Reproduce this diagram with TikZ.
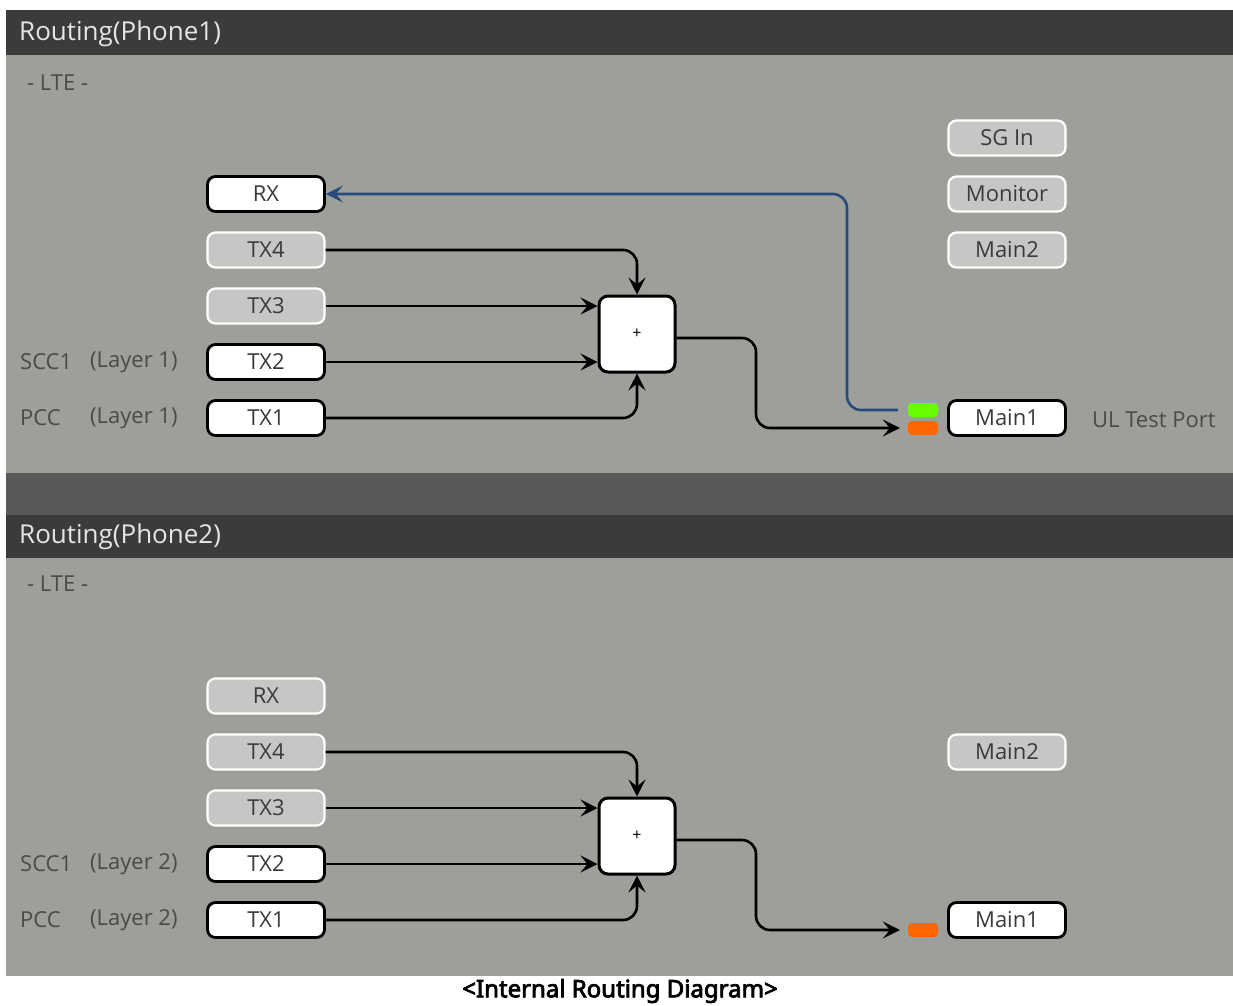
\documentclass[tikz,border=0pt]{standalone}
\usepackage{fontspec}
\setmainfont{Open Sans}
\newfontfamily\capfont{Noto Sans}[FakeBold=3.2]
\usetikzlibrary{arrows.meta}
\definecolor{panelbg}{HTML}{9D9F9B}
\definecolor{titlebg}{HTML}{3B3B3B}
\definecolor{stripbg}{HTML}{58595B}
\definecolor{offfill}{HTML}{C6C7C5}
\definecolor{nodetext}{HTML}{3A3A3A}
\definecolor{labeltext}{HTML}{4A4A4A}
\definecolor{rxblue}{HTML}{264A7A}
\definecolor{ledgreen}{HTML}{66FF00}
\definecolor{ledorange}{HTML}{FF6600}
\tikzset{
  port/.style={rounded corners=8pt, minimum width=117pt, minimum height=35pt,
    inner sep=0pt, font=\fontsize{22}{22}\selectfont, text=nodetext},
  porton/.style={port, fill=white, draw=black, line width=2.8pt},
  portoff/.style={port, fill=offfill, draw=white, line width=2.2pt},
  sumbox/.style={rounded corners=9pt, minimum width=76pt, minimum height=76pt,
    fill=white, draw=black, line width=3pt, inner sep=0pt},
  led/.style={rounded corners=4pt, minimum width=30pt, minimum height=14pt, inner sep=0pt},
  lbl/.style={font=\fontsize{22}{22}\selectfont, text=labeltext, anchor=west, inner sep=0pt},
  ttl/.style={font=\fontsize{26}{26}\selectfont, text=white!90!black, anchor=west, inner sep=0pt},
  link/.style={line width=2.6pt, rounded corners=14pt,
    -{Stealth[length=17pt,width=17pt,inset=7pt]}},
}
\begin{document}
\begin{tikzpicture}[x=1pt,y=-1pt]
\useasboundingbox (0,0) rectangle (1233,1005);
\fill[white] (0,0) rectangle (1233,1005);
% frames
\fill[titlebg] (6,10) rectangle (1233,55);
\fill[panelbg] (6,55) rectangle (1233,473);
\fill[stripbg] (6,473) rectangle (1233,515);
\fill[titlebg] (6,515) rectangle (1233,558);
\fill[panelbg] (6,558) rectangle (1233,976);

\node[ttl] (t1) at (19,34) {Routing(Phone1)};
\node[ttl] (t2) at (19,537) {Routing(Phone2)};
\node[lbl] (lte1) at (27,83) {- LTE -};
\node[lbl] (lte2) at (27,584) {- LTE -};

% ---- Phone 1 ----
\node[porton]  (rx1)  at (266,194) {RX};
\node[portoff] (tx41) at (266,250) {TX4};
\node[portoff] (tx31) at (266,306) {TX3};
\node[porton]  (tx21) at (266,362) {TX2};
\node[porton]  (tx11) at (266,418) {TX1};
\node[sumbox]  (sum1) at (637,334) {\fontsize{16}{16}\selectfont +};
\node[portoff] (sg1)  at (1007,138) {SG In};
\node[portoff] (mon1) at (1007,194) {Monitor};
\node[portoff] (m21)  at (1007,250) {Main2};
\node[porton]  (m11)  at (1007,418) {Main1};
\node[led, fill=ledgreen]  (g1) at (923,410) {};
\node[led, fill=ledorange] (o1) at (923,428) {};
\node[lbl] (scc1) at (20,362) {SCC1};
\node[lbl] (lay21) at (90,362) {(Layer 1)};
\node[lbl] (pcc1) at (20,418) {PCC};
\node[lbl] (lay11) at (90,418) {(Layer 1)};
\node[lbl] (ul1)  at (1092,420) {UL Test Port};

\draw[link] (tx41.east) -| (sum1.north);
\draw[link] (tx31.east) -- (tx31.east -| sum1.west);
\draw[link] (tx21.east) -- (tx21.east -| sum1.west);
\draw[link] (tx11.east) -| (sum1.south);
\draw[link] (sum1.east |- 0,338) -- (756,338) -- (756,428) -- ([xshift=-8pt]o1.west);
\draw[link, draw=rxblue] ([xshift=-10pt]g1.west) -- (847,410) -- (847,194) -- (rx1.east);

% ---- Phone 2 ----
\node[portoff] (rx2)  at (266,696) {RX};
\node[portoff] (tx42) at (266,752) {TX4};
\node[portoff] (tx32) at (266,808) {TX3};
\node[porton]  (tx22) at (266,864) {TX2};
\node[porton]  (tx12) at (266,920) {TX1};
\node[sumbox]  (sum2) at (637,836) {\fontsize{16}{16}\selectfont +};
\node[portoff] (m22)  at (1007,752) {Main2};
\node[porton]  (m12)  at (1007,920) {Main1};
\node[led, fill=ledorange] (o2) at (923,930) {};
\node[lbl] (scc2) at (20,864) {SCC1};
\node[lbl] (lay22) at (90,864) {(Layer 2)};
\node[lbl] (pcc2) at (20,920) {PCC};
\node[lbl] (lay12) at (90,920) {(Layer 2)};

\draw[link] (tx42.east) -| (sum2.north);
\draw[link] (tx32.east) -- (tx32.east -| sum2.west);
\draw[link] (tx22.east) -- (tx22.east -| sum2.west);
\draw[link] (tx12.east) -| (sum2.south);
\draw[link] (sum2.east |- 0,840) -- (756,840) -- (756,930) -- ([xshift=-8pt]o2.west);

\node[font=\capfont\fontsize{24}{24}\selectfont, inner sep=0pt] (cap) at (620,991) {<Internal Routing Diagram>};
\end{tikzpicture}
\end{document}
